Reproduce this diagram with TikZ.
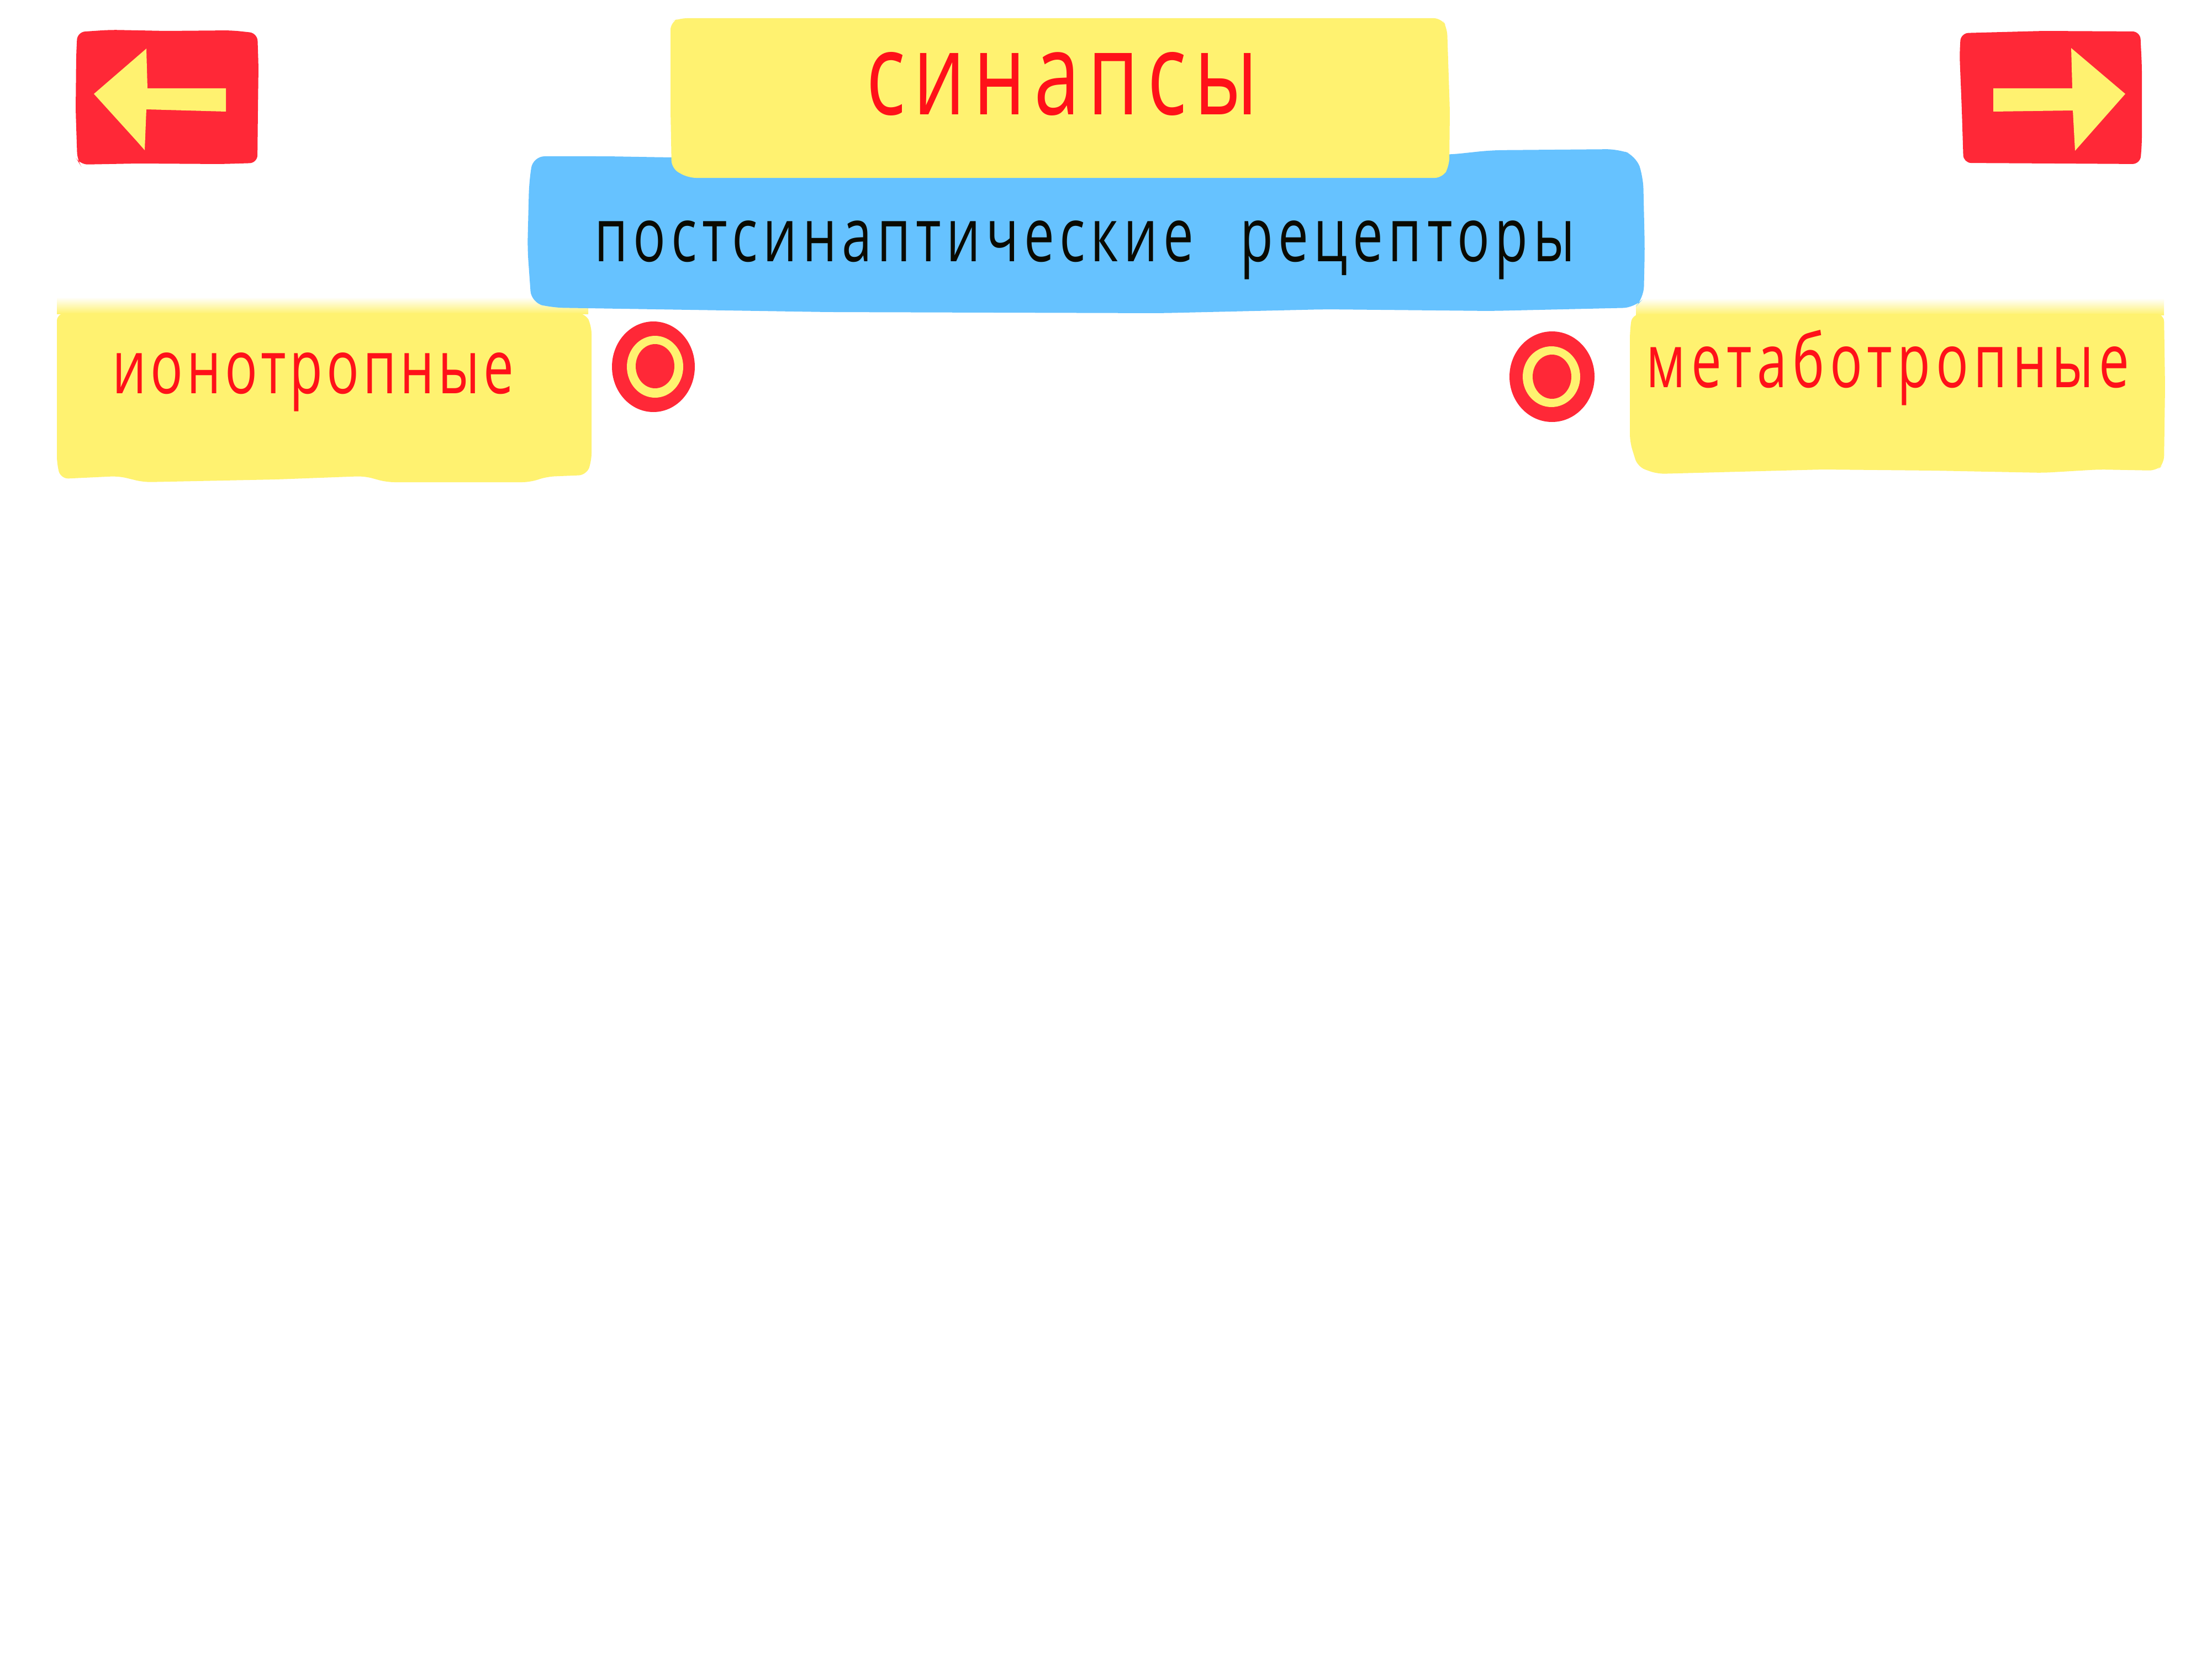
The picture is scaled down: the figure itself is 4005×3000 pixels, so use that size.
\documentclass[tikz,border=0pt]{standalone}
\usepackage{fontspec}
\newfontfamily\diagfont[FakeStretch=0.72,LetterSpace=7]{Open Sans}
\newfontfamily\ionofont[FakeStretch=0.72,LetterSpace=5]{Open Sans}
\definecolor{myred}{RGB}{255,40,55}
\definecolor{txtred}{RGB}{255,17,25}
\definecolor{myyellow}{RGB}{255,242,112}
\definecolor{myblue}{RGB}{102,194,255}
\definecolor{txtblack}{RGB}{10,10,0}
\tikzset{
  redpaint/.style={fill=myred,rounded corners=4},
  yellowpaint/.style={fill=myyellow,rounded corners=4},
  bluepaint/.style={fill=myblue,rounded corners=6},
  bigtext/.style={inner sep=0pt,anchor=base,text=txtred,font=\diagfont\fontsize{59pt}{66pt}\selectfont},
  midtext/.style={inner sep=0pt,anchor=base,font=\diagfont\fontsize{38.6pt}{44pt}\selectfont},
}
\begin{document}
\begin{tikzpicture}[x=0.01cm,y=-0.01cm]
\useasboundingbox (0,0) rectangle (4005,3000);
\fill[white] (0,0) rectangle (4005,3000);
% left red arrow box
\fill[redpaint] (140,58) -- (200,54) -- (300,56) -- (420,55) -- (466,60) -- (468,120) -- (467,200) -- (466,295) -- (400,297) -- (250,296) -- (145,298) -- (140,290) -- (137,200) -- (138,100) -- cycle;
\fill[myyellow] (170,170) -- (265,88) -- (267,160) -- (409,160) -- (409,202) -- (265,198) -- (262,272) -- (248,256) -- cycle;
% right red arrow box
\fill[redpaint] (3550,60) -- (3700,56) -- (3875,57) -- (3878,120) -- (3878,260) -- (3875,297) -- (3720,296) -- (3555,295) -- (3552,200) -- (3548,100) -- cycle;
\fill[myyellow] (3609,160) -- (3752,160) -- (3750,87) -- (3848,170) -- (3757,273) -- (3753,200) -- (3609,202) -- cycle;
% faded tops of the side boxes
\shade[top color=white,bottom color=myyellow] (103,538) rectangle (1065,568);
\shade[top color=white,bottom color=myyellow] (2962,540) rectangle (3918,570);
% blue box
\fill[bluepaint] (965,283) -- (1100,283) -- (1213,285) -- (2625,280) -- (2700,272) -- (2930,270) -- (2962,282) -- (2975,320) -- (2978,450) -- (2976,540) -- (2960,557) -- (2700,563) -- (2400,560) -- (2100,567) -- (1500,565) -- (1000,557) -- (962,548) -- (955,450) -- (958,330) -- cycle;
% title yellow box
\fill[yellowpaint] (1214,40) -- (1230,33) -- (2610,33) -- (2620,50) -- (2625,200) -- (2624,300) -- (2612,322) -- (1246,322) -- (1216,305) -- (1214,200) -- cycle;
% left yellow box
\fill[yellowpaint] (103,567) -- (1060,567) -- (1071,590) -- (1071,835) -- (1062,860) -- (990,863) -- (960,873) -- (700,873) -- (660,862) -- (500,868) -- (260,873) -- (215,862) -- (110,867) -- (103,840) -- cycle;
% right yellow box
\fill[yellowpaint] (2955,569) -- (3918,568) -- (3920,700) -- (3918,840) -- (3905,852) -- (3800,850) -- (3700,856) -- (3500,852) -- (3300,850) -- (3000,858) -- (2965,845) -- (2951,800) -- (2951,600) -- cycle;
% targets
\fill[myred] (1183,664) ellipse [x radius=75,y radius=82];
\fill[myyellow] (1186,664) ellipse [x radius=51,y radius=56];
\fill[myred] (1186,663) ellipse [x radius=35,y radius=40];
\fill[myred] (2810,682) ellipse [x radius=77,y radius=82];
\fill[myyellow] (2809,682) ellipse [x radius=52,y radius=55];
\fill[myred] (2810,682) ellipse [x radius=35,y radius=40];
% texts
\node[bigtext] (title) at (1923,208) {синапсы};
\node[midtext,text=txtblack] (sub) at (1964,473) {постсинаптические\hspace{14pt} рецепторы};
\node[midtext,text=txtred,font=\ionofont\fontsize{38.6pt}{44pt}\selectfont] (iono) at (567,712) {ионотропные};
\node[midtext,text=txtred] (meta) at (3418,701) {метаботропные};
\end{tikzpicture}
\end{document}
